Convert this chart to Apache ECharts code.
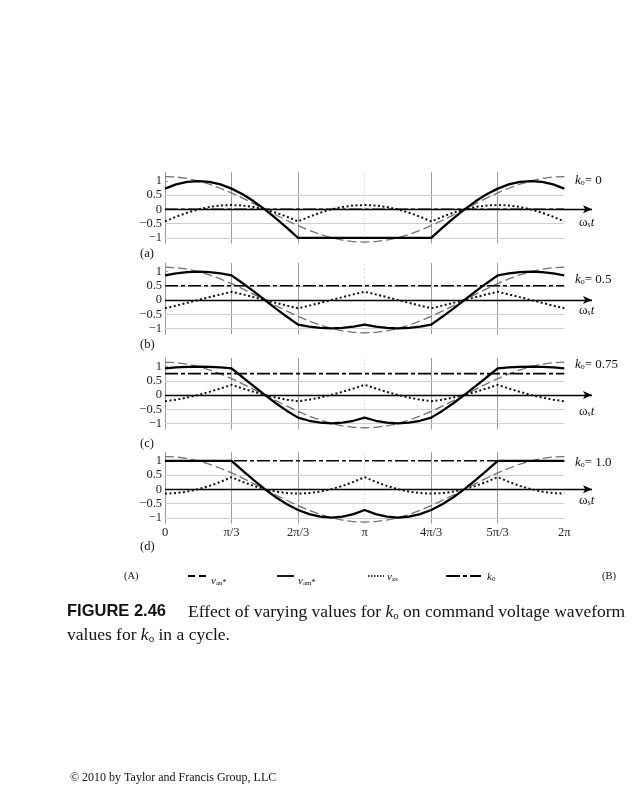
<!DOCTYPE html>
<html><head><meta charset="utf-8">
<script src="https://cdn.jsdelivr.net/npm/echarts@6/dist/echarts.min.js"></script>
<style>html,body{margin:0;padding:0;background:#fff}#c{width:638px;height:800px}</style>
</head><body><div id="c"></div>
<script>
// ---- data (angle in degrees, read every 10°) ----
const theta = [0,10,20,30,40,50,60,70,80,90,100,110,120,130,140,150,160,170,180,190,200,210,220,230,240,250,260,270,280,290,300,310,320,330,340,350,360];
const tickValues = [0,60,120,180,240,300,360];
const tickLabels = ['0','π/3','2π/3','π','4π/3','5π/3','2π'];
const yTickValues = [-1,-0.5,0,0.5,1];
const yTickLabels = ['−1','−0.5','0','0.5','1'];
const koValues = [0,0.5,0.75,1.0];
const koLabels = ['0','0.5','0.75','1.0'];
const panelLabels = ['(a)','(b)','(c)','(d)'];

const van = [1.15,1.133,1.081,0.996,0.881,0.739,0.575,0.393,0.200,0,-0.200,-0.393,-0.575,-0.739,-0.881,-0.996,-1.081,-1.133,-1.15,-1.133,-1.081,-0.996,-0.881,-0.739,-0.575,-0.393,-0.200,0,0.200,0.393,0.575,0.739,0.881,0.996,1.081,1.133,1.15];

const vzs0 = [-0.425,-0.261,-0.119,-0.004,0.081,0.133,0.15,0.133,0.081,-0.004,-0.119,-0.261,-0.425,-0.261,-0.119,-0.004,0.081,0.133,0.15,0.133,0.081,-0.004,-0.119,-0.261,-0.425,-0.261,-0.119,-0.004,0.081,0.133,0.15,0.133,0.081,-0.004,-0.119,-0.261,-0.425];
const vam0 = [0.725,0.872,0.962,0.992,0.962,0.872,0.725,0.526,0.280,-0.004,-0.319,-0.654,-1,-1,-1,-1,-1,-1,-1,-1,-1,-1,-1,-1,-1,-0.654,-0.319,-0.004,0.280,0.526,0.725,0.872,0.962,0.992,0.962,0.872,0.725];

const vzs05 = [-0.288,-0.197,-0.100,0,0.100,0.197,0.288,0.197,0.100,0,-0.100,-0.197,-0.288,-0.197,-0.100,0,0.100,0.197,0.288,0.197,0.100,0,-0.100,-0.197,-0.288,-0.197,-0.100,0,0.100,0.197,0.288,0.197,0.100,0,-0.100,-0.197,-0.288];
const vam05 = [0.863,0.936,0.981,0.996,0.981,0.936,0.863,0.590,0.300,0,-0.300,-0.590,-0.863,-0.936,-0.981,-0.996,-0.981,-0.936,-0.863,-0.936,-0.981,-0.996,-0.981,-0.936,-0.863,-0.590,-0.300,0,0.300,0.590,0.863,0.936,0.981,0.996,0.981,0.936,0.863];

const vzs075 = [-0.219,-0.165,-0.090,0.002,0.110,0.229,0.356,0.229,0.110,0.002,-0.090,-0.165,-0.219,-0.165,-0.090,0.002,0.110,0.229,0.356,0.229,0.110,0.002,-0.090,-0.165,-0.219,-0.165,-0.090,0.002,0.110,0.229,0.356,0.229,0.110,0.002,-0.090,-0.165,-0.219];
const vam075 = [0.931,0.968,0.990,0.998,0.990,0.968,0.931,0.622,0.309,0.002,-0.290,-0.558,-0.794,-0.904,-0.971,-0.994,-0.971,-0.904,-0.794,-0.904,-0.971,-0.994,-0.971,-0.904,-0.794,-0.558,-0.290,0.002,0.309,0.622,0.931,0.968,0.990,0.998,0.990,0.968,0.931];

const vzs1 = [-0.15,-0.133,-0.081,0.004,0.119,0.261,0.425,0.261,0.119,0.004,-0.081,-0.133,-0.15,-0.133,-0.081,0.004,0.119,0.261,0.425,0.261,0.119,0.004,-0.081,-0.133,-0.15,-0.133,-0.081,0.004,0.119,0.261,0.425,0.261,0.119,0.004,-0.081,-0.133,-0.15];
const vam1 = [1,1,1,1,1,1,1,0.654,0.319,0.004,-0.280,-0.526,-0.725,-0.872,-0.962,-0.992,-0.962,-0.872,-0.725,-0.872,-0.962,-0.992,-0.962,-0.872,-0.725,-0.526,-0.280,0.004,0.319,0.654,1,1,1,1,1,1,1];

const vzsSets = [vzs0, vzs05, vzs075, vzs1];
const vamSets = [vam0, vam05, vam075, vam1];
const hGrid = [0.5,-0.5,-1];

// ---- layout ----
const zeros = [209.3, 300, 395, 489.3];
const UNIT = 28.5, YMAX = 1.3, YMIN = -1.2, XMAX = 385;
const SERIF = '"Liberation Serif", "DejaVu Serif", serif';
const koLabelY = [179, 278, 363, 461];
const wLabelY = [221, 309, 410, 499];
const panelLabelY = [254, 345, 444, 547];

const chart = echarts.init(document.getElementById('c'), null, {renderer:'canvas'});
const pairs = arr => theta.map((t, j) => [t, arr[j]]);

const grids = [], xAxes = [], yAxes = [], series = [];
for (let i = 0; i < 4; i++) {
  grids.push({left:165, width:427, top: zeros[i] - YMAX*UNIT, height:(YMAX-YMIN)*UNIT, containLabel:false});
  xAxes.push({
    gridIndex:i, type:'value', min:0, max:XMAX, interval:60,
    axisLine:{show:false}, axisTick:{show:false}, splitLine:{show:false},
    axisLabel:{show:i===3, customValues:tickValues, margin:3,
      formatter:v => { const k = tickValues.indexOf(v); return k >= 0 ? tickLabels[k] : ''; },
      fontFamily:SERIF, fontSize:12.5, color:'#222'}
  });
  yAxes.push({
    gridIndex:i, type:'value', min:YMIN, max:YMAX,
    axisLine:{show:true, onZero:false, lineStyle:{color:'#9a9a9a', width:1}},
    axisTick:{show:true, inside:true, length:3, customValues:yTickValues, lineStyle:{color:'#9a9a9a'}},
    axisLabel:{customValues:yTickValues, margin:3, padding:[0,0,5,0],
      formatter:v => { const k = yTickValues.indexOf(v); return k >= 0 ? yTickLabels[k] : ''; },
      fontFamily:SERIF, fontSize:12.5, color:'#222'},
    splitLine:{show:false}
  });
  const gl = {color:'#cfcfcf', width:1, type:'solid'};
  const mlData = [];
  [60,120,240,300].forEach(v => mlData.push({xAxis:v, lineStyle:{color:'#9a9a9a', width:1, type:'solid'}}));
  mlData.push({xAxis:180, lineStyle:{color:'#dcdcdc', width:1, type:[2,2]}});
  hGrid.forEach(y => mlData.push([{coord:[0,y], lineStyle:gl},{coord:[360,y], lineStyle:gl}]));
  mlData.push([{coord:[0,0], symbol:'none', lineStyle:{color:'#000', width:1.3, type:'solid'}},
               {coord:[XMAX,0], symbol:'arrow', symbolSize:[6,9], lineStyle:{color:'#000', width:1.3, type:'solid'}}]);
  series.push({
    name:'van*', type:'line', xAxisIndex:i, yAxisIndex:i, data:pairs(van), showSymbol:false, z:2,
    lineStyle:{color:'#707070', width:1.3, type:[9,4]},
    markLine:{silent:true, symbol:['none','none'], label:{show:false}, z:1, animation:false, data:mlData}
  });
  series.push({name:'vzs', type:'line', xAxisIndex:i, yAxisIndex:i, data:pairs(vzsSets[i]), showSymbol:false, z:3,
    lineStyle:{color:'#111', width:2, type:[2,2.5]}});
  series.push({name:'k0', type:'line', xAxisIndex:i, yAxisIndex:i, data:[[0,koValues[i]],[360,koValues[i]]], showSymbol:false, z:3,
    lineStyle:{color:'#000', width:1.6, type:[13,3,4,3]}});
  series.push({name:'vam*', type:'line', xAxisIndex:i, yAxisIndex:i, data:pairs(vamSets[i]), showSymbol:false, z:4,
    lineStyle:{color:'#000', width:2.3}});
}

const richBase = {
  i:{fontFamily:SERIF, fontStyle:'italic', fontSize:13, lineHeight:16, verticalAlign:'bottom', fill:'#111'},
  n:{fontFamily:SERIF, fontSize:13, lineHeight:16, verticalAlign:'bottom', fill:'#111'},
  s:{fontFamily:SERIF, fontSize:8, lineHeight:6, verticalAlign:'bottom', fill:'#111'}
};
const richSmall = {
  i:{fontFamily:SERIF, fontStyle:'italic', fontSize:11, lineHeight:14, verticalAlign:'bottom', fill:'#111'},
  s:{fontFamily:SERIF, fontSize:7, lineHeight:5, verticalAlign:'bottom', fill:'#111'},
  p:{fontFamily:SERIF, fontSize:8, lineHeight:22, verticalAlign:'bottom', fill:'#111'}
};
const richCap = {
  n:{fontFamily:SERIF, fontSize:17.5, lineHeight:21, verticalAlign:'bottom', fill:'#111'},
  i:{fontFamily:SERIF, fontStyle:'italic', fontSize:17.5, lineHeight:21, verticalAlign:'bottom', fill:'#111'},
  s:{fontFamily:SERIF, fontSize:11, lineHeight:7, verticalAlign:'bottom', fill:'#111'}
};
const txt = (x, y, text, rich, extra) => ({type:'text', x, y, silent:true,
  style:Object.assign({text, rich, verticalAlign:'middle', align:'left', fill:'#111', font:'13px '+SERIF}, extra||{})});
const line = (x1, x2, y, dash, w) => ({type:'line', silent:true, shape:{x1, y1:y, x2, y2:y},
  style:{stroke:'#000', lineWidth:w, lineDash:dash}});

const graphics = [];
for (let i = 0; i < 4; i++) {
  graphics.push(txt(575, koLabelY[i], '{i|k}{s|o}{n|= ' + koLabels[i] + '}', richBase));
  graphics.push(txt(579, wLabelY[i], '{n|ω}{s|s}{i|t}', richBase));
  graphics.push(txt(140, panelLabelY[i], panelLabels[i], null, {font:'12.5px '+SERIF}));
}
const LY = 576;
graphics.push(txt(124, LY, '(A)', null, {font:'10.5px '+SERIF}));
graphics.push(txt(602, LY, '(B)', null, {font:'10.5px '+SERIF}));
graphics.push(line(188, 207, LY, [7,4], 1.8));
graphics.push(txt(211, LY, '{i|v}{s|an}{p|*}', richSmall));
graphics.push(line(277, 294, LY, null, 1.8));
graphics.push(txt(298, LY, '{i|v}{s|am}{p|*}', richSmall));
graphics.push(line(368, 384, LY, [1.5,1.5], 1.3));
graphics.push(txt(387, LY, '{i|v}{s|zs}', richSmall));
graphics.push(line(446, 481, LY, [14,3,4,3], 1.8));
graphics.push(txt(487, LY, '{i|k}{s|0}', richSmall));

graphics.push(txt(67, 611, 'FIGURE 2.46', null, {font:'bold 16.5px "Liberation Sans", Arial, sans-serif', fill:'#111'}));
graphics.push(txt(188, 611, '{n|Effect of varying values for }{i|k}{s|o}{n| on command voltage waveform}', richCap));
graphics.push(txt(67, 634, '{n|values for }{i|k}{s|o}{n| in a cycle.}', richCap));
graphics.push(txt(70, 778, '© 2010 by Taylor and Francis Group, LLC', null, {font:'12px '+SERIF}));

chart.setOption({
  backgroundColor:'#ffffff',
  animation:false,
  grid:grids, xAxis:xAxes, yAxis:yAxes, series:series,
  graphic:graphics
});
</script>
</body></html>
